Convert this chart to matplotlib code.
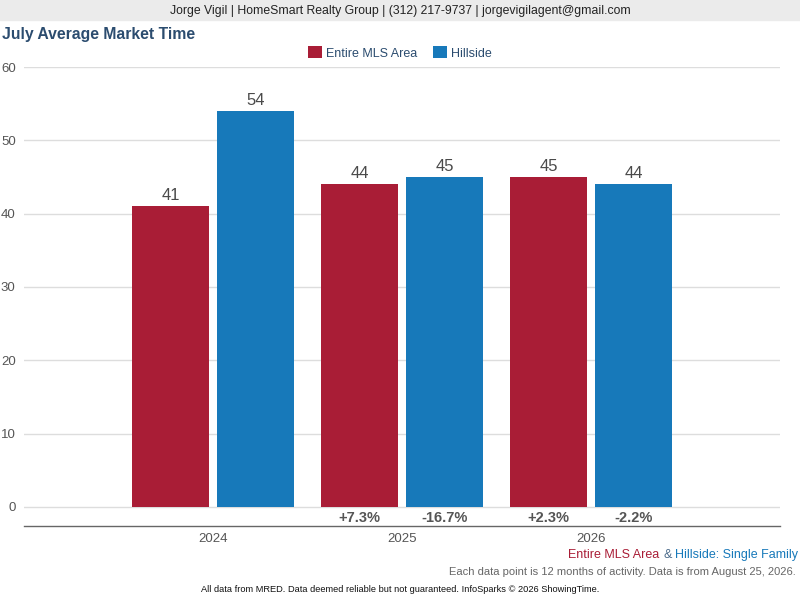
import matplotlib
matplotlib.use("Agg")
import matplotlib.pyplot as plt
import numpy as np

plt.rcParams['font.family'] = ['Liberation Sans', 'DejaVu Sans']

years = ['2024', '2025', '2026']
mls_area = [41, 44, 45]
hillside = [54, 45, 44]
mls_change = [None, '+7.3%', '+2.3%']
hillside_change = [None, '-16.7%', '-2.2%']

red = '#A91D36'
blue = '#1779BA'
title_blue = '#2B4C6F'
grey_txt = '#555555'

fig = plt.figure(figsize=(8, 6), dpi=100)

# header band
fig.patches.append(plt.Rectangle((0, 1 - 20 / 600), 1, 20 / 600, transform=fig.transFigure,
                                 color='#EBEBEB', zorder=0))
fig.text(0.5, 1 - 11 / 600, 'Jorge Vigil | HomeSmart Realty Group | (312) 217-9737 | jorgevigilagent@gmail.com',
         ha='center', va='center', fontsize=8.8, color='#222222')
fig.text(2 / 800, 1 - 35 / 600, 'July Average Market Time', ha='left', va='center',
         fontsize=11.3, fontweight='bold', color=title_blue)

ax = fig.add_axes([24 / 800, 1 - 526 / 600, 756 / 800, (526 - 67) / 600])

x = np.arange(len(years))
w = 0.41
off = 0.225
b1 = ax.bar(x - off, mls_area, w, color=red, zorder=2, label='Entire MLS Area')
b2 = ax.bar(x + off, hillside, w, color=blue, zorder=2, label='Hillside')

for rects, vals in ((b1, mls_area), (b2, hillside)):
    for r, v in zip(rects, vals):
        ax.text(r.get_x() + r.get_width() / 2, v + 0.4, str(v), ha='center', va='bottom',
                fontsize=12, color='#4a4a4a')

for i in range(len(years)):
    for c, dx in ((mls_change[i], -off), (hillside_change[i], off)):
        if c:
            ax.text(i + dx, -1.5, c, ha='center', va='center', fontsize=10.5,
                    fontweight='bold', color=grey_txt)

ax.set_xlim(-1.0, 3.0)
ax.set_ylim(-2.6, 60)
ax.set_yticks(range(0, 61, 10))
ax.set_xticks(x)
ax.set_xticklabels(years)
ax.tick_params(axis='y', length=0, labelsize=9.5, labelcolor=grey_txt, pad=6)
ax.tick_params(axis='x', length=0, labelsize=9.5, labelcolor=grey_txt, pad=5)
ax.yaxis.grid(True, color='#DDDDDD', linewidth=1, zorder=0)
ax.set_axisbelow(True)
for s in ('top', 'right', 'left'):
    ax.spines[s].set_visible(False)
ax.spines['bottom'].set_color('#666666')
ax.spines['bottom'].set_linewidth(1)

fig.legend(handles=[b1, b2], loc='center', bbox_to_anchor=(0.5, 1 - 53 / 600), ncol=2,
           frameon=False, fontsize=9, labelcolor=title_blue, handlelength=1.1,
           handleheight=1.1, handletextpad=0.4, columnspacing=1.2)

# footer notes
y1 = 1 - 555 / 600
t3 = fig.text(798 / 800, y1, 'Hillside: Single Family', ha='right', va='center', fontsize=9, color=blue)
fig.canvas.draw()
r = fig.canvas.get_renderer()
bb = t3.get_window_extent(r)
t2 = fig.text(bb.x0 / 800 - 3 / 800, y1, '&', ha='right', va='center', fontsize=9, color='#4A6A8A')
bb2 = t2.get_window_extent(r)
fig.text(bb2.x0 / 800 - 4 / 800, y1, 'Entire MLS Area', ha='right', va='center', fontsize=9, color=red)
fig.text(796 / 800, 1 - 572 / 600, 'Each data point is 12 months of activity. Data is from August 25, 2026.',
         ha='right', va='center', fontsize=8, color='#666666')
fig.text(0.5, 1 - 590 / 600, 'All data from MRED. Data deemed reliable but not guaranteed. InfoSparks \u00a9 2026 ShowingTime.',
         ha='center', va='center', fontsize=6.7, color='#111111')

fig.savefig('out.png', dpi=100)
